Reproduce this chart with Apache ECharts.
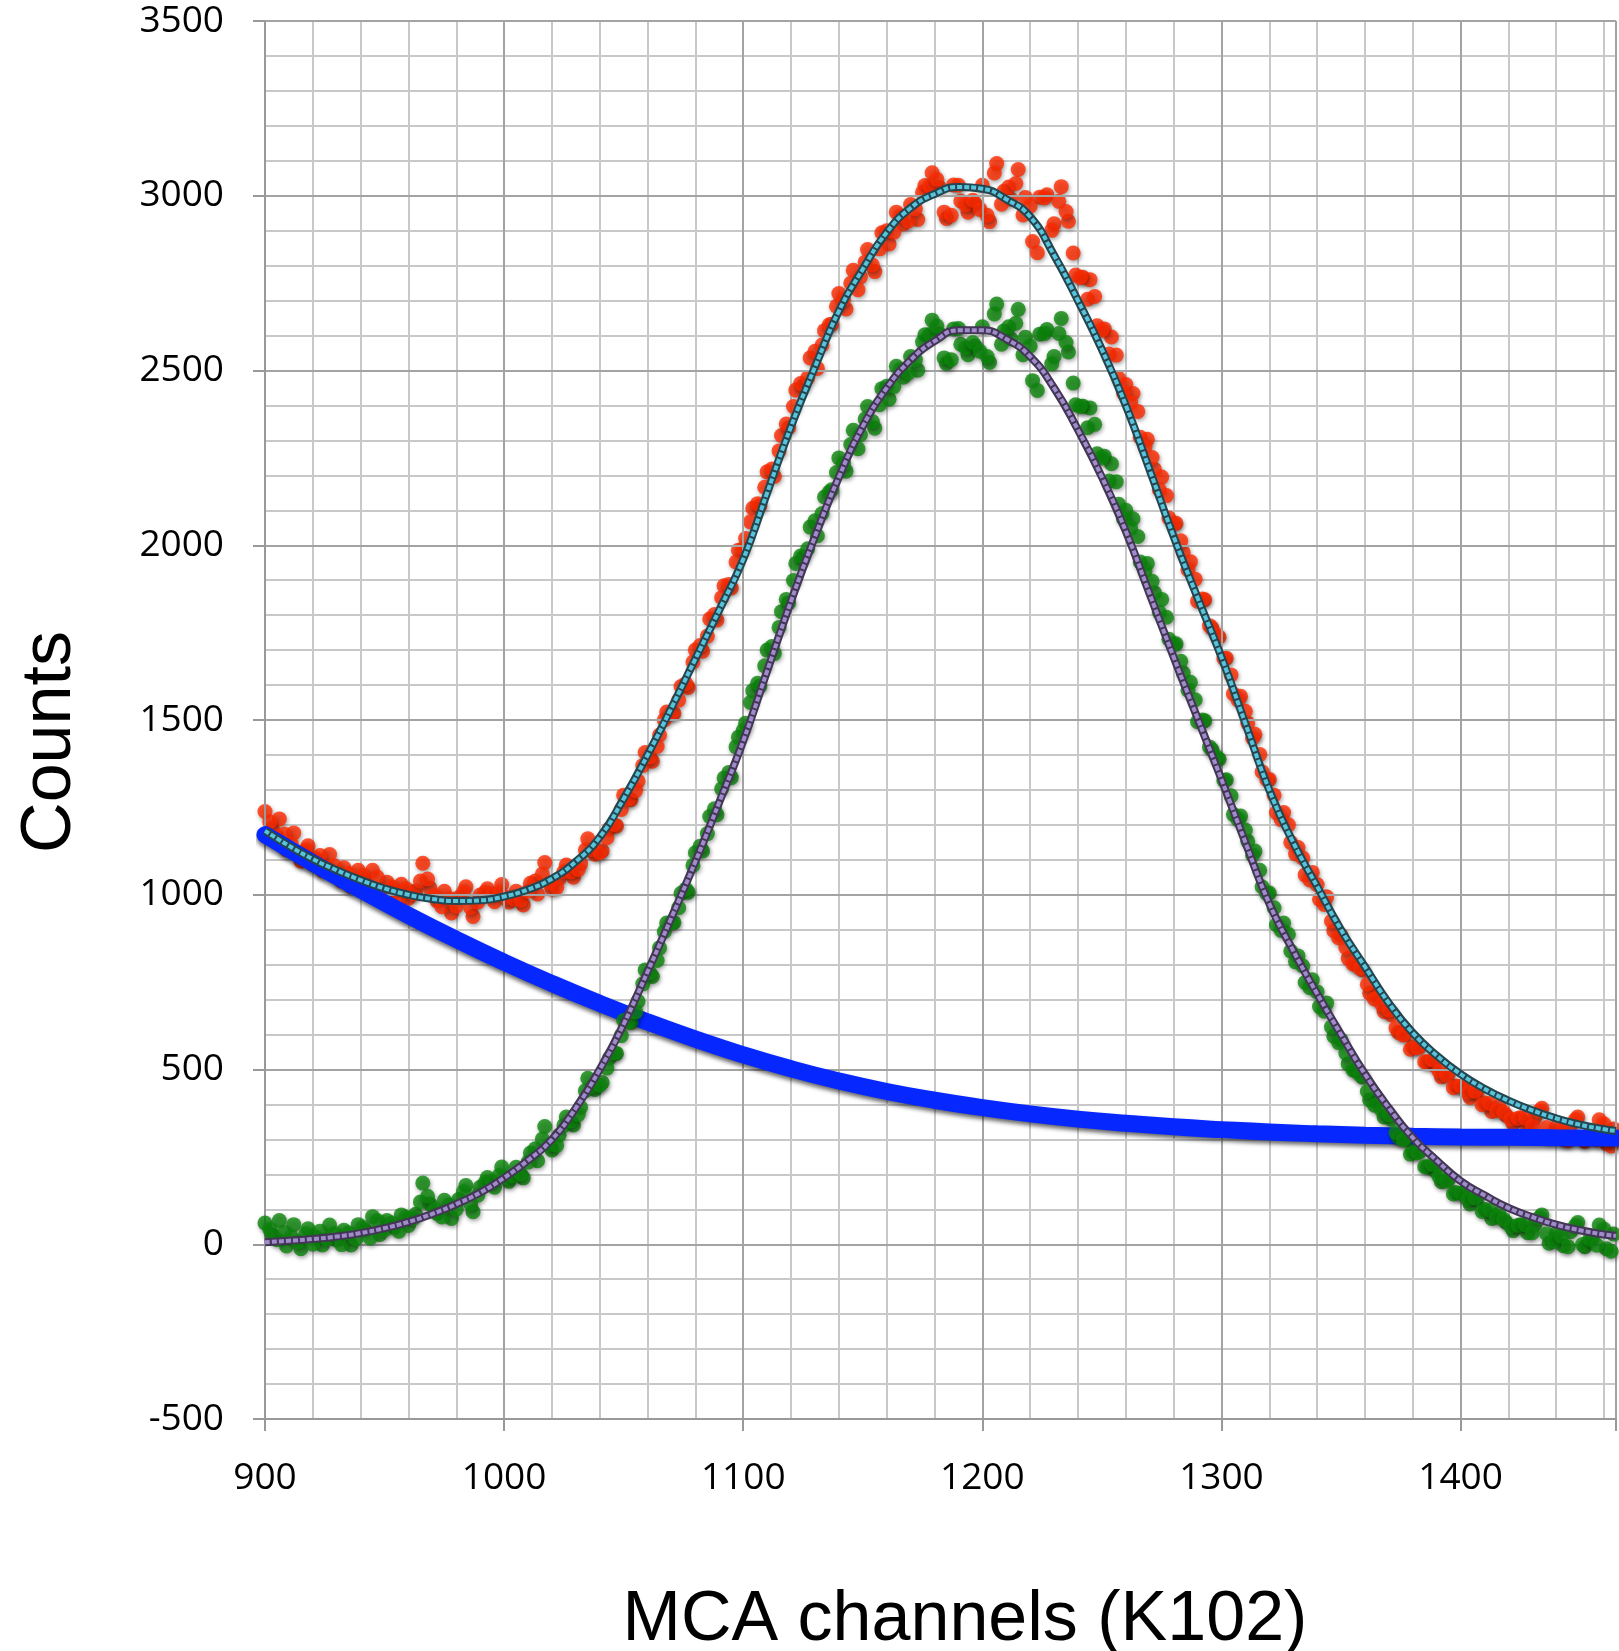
<!DOCTYPE html>
<html><head><meta charset="utf-8">
<script src="https://cdn.jsdelivr.net/npm/echarts@6/dist/echarts.min.js"></script>
<style>html,body{margin:0;padding:0;background:#fff}#chart{width:1619px;height:1651px}</style>
</head><body><div id="chart"></div>
<script>
// MCA channels of the measured points (first set)
const channels = [900,903,906,909,912,915,918,921,924,927,930,933,936,939,942,945,948,951,954,957,960,963,966,969,972,975,978,981,984,987,990,993,996,999,
1002,1005,1008,1011,1014,1017,1020,1023,1026,1029,1032,1035,1038,1041,1044,1047,1050,1053,1056,1059,1062,1065,1068,1071,1074,1077,1080,1083,1086,1089,1092,1095,1098,
1101,1104,1107,1110,1113,1116,1119,1122,1125,1128,1131,1134,1137,1140,1143,1146,1149,1152,1155,1158,1161,1164,1167,1170,1173,1176,1179,1182,1185,1188,1191,1194,1197,1200,
1203,1206,1209,1212,1215,1218,1221,1224,1227,1230,1233,1236,1239,1242,1245,1248,1251,1254,1257,1260,1263,1266,1269,1272,1275,1278,1281,1284,1287,1290,1293,1296,1299,
1302,1305,1308,1311,1314,1317,1320,1323,1326,1329,1332,1335,1338,1341,1344,1347,1350,1353,1356,1359,1362,1365,1368,1371,1374,1377,1380,1383,1386,1389,1392,1395,1398,
1401,1404,1407,1410,1413,1416,1419,1422,1425,1428,1431,1434,1437,1440,1443,1446,1449,1452,1455,1458,1461,1464];
const totalCounts = [1238,1190,1217,1129,1177,1096,1140,1104,1069,1115,1060,1077,1023,1070,1042,1070,1008,1036,1006,1030,990,1011,1090,1019,982,1010,948,992,1023,938,999,1017,980,1029,
979,1010,971,1033,1002,1092,1016,1046,1085,1050,1089,1160,1116,1126,1189,1197,1285,1272,1325,1407,1382,1457,1523,1519,1596,1593,1700,1697,1789,1786,1884,1878,1986,
2019,2106,2113,2210,2197,2314,2336,2444,2455,2536,2506,2614,2632,2720,2676,2787,2768,2846,2783,2894,2862,2953,2919,2975,2932,3029,3066,3024,2935,3031,2985,2953,2977,3030,
2926,3092,3013,2990,3075,2995,2869,2996,3003,2920,3026,2927,2773,2767,2760,2628,2619,2596,2478,2460,2434,2309,2303,2217,2195,2078,2063,1980,1953,1840,1844,1763,1737,
1677,1575,1568,1491,1459,1352,1330,1235,1235,1150,1135,1057,1064,987,994,897,885,818,801,785,718,712,666,657,606,601,565,566,521,512,479,489,453,
453,420,438,405,380,395,369,345,362,339,361,389,307,335,300,339,364,294,320,356,288,330];
const netCounts = [61,27,68,-5,56,-13,44,21,-2,55,12,40,-2,56,40,79,28,68,48,84,54,86,175,115,88,126,74,128,168,93,163,191,163,221,
180,220,190,261,239,337,270,312,364,341,392,475,443,463,532,546,640,635,695,785,766,848,919,921,1004,1007,1120,1125,1224,1229,1334,1335,1451,
1491,1584,1597,1700,1690,1810,1835,1948,1965,2052,2027,2138,2159,2250,2212,2329,2316,2397,2335,2448,2418,2512,2481,2540,2501,2602,2644,2605,2520,2619,2575,2545,2570,2625,
2523,2690,2613,2590,2675,2595,2471,2604,2617,2540,2649,2553,2402,2398,2393,2262,2255,2233,2117,2100,2076,1952,1948,1864,1845,1731,1718,1635,1608,1495,1498,1415,1388,
1329,1230,1225,1153,1125,1023,1005,914,919,839,825,749,757,680,690,595,585,516,497,478,413,409,364,357,306,301,265,266,221,212,179,186,148,
147,115,132,100,74,88,63,39,56,33,56,84,3,31,-4,36,62,-7,19,55,-13,29];

// second set of measured points
const channelsB = [902,905,908,911,914,917,920,923,926,929,932,935,938,941,944,947,950,953,956,959,962,965,968,971,974,977,980,983,986,989,992,995,998,
1001,1004,1007,1010,1013,1016,1019,1022,1025,1028,1031,1034,1037,1040,1043,1046,1049,1052,1055,1058,1061,1064,1067,1070,1073,1076,1079,1082,1085,1088,1091,1094,1097,
1100,1103,1106,1109,1112,1115,1118,1121,1124,1127,1130,1133,1136,1139,1142,1145,1148,1151,1154,1157,1160,1163,1166,1169,1172,1175,1178,1181,1184,1187,1190,1193,1196,1199,
1202,1205,1208,1211,1214,1217,1220,1223,1226,1229,1232,1235,1238,1241,1244,1247,1250,1253,1256,1259,1262,1265,1268,1271,1274,1277,1280,1283,1286,1289,1292,1295,1298,
1301,1304,1307,1310,1313,1316,1319,1322,1325,1328,1331,1334,1337,1340,1343,1346,1349,1352,1355,1358,1361,1364,1367,1370,1373,1376,1379,1382,1385,1388,1391,1394,1397,
1400,1403,1406,1409,1412,1415,1418,1421,1424,1427,1430,1433,1436,1439,1442,1445,1448,1451,1454,1457,1460,1463];
const totalCountsB = [1209,1167,1174,1146,1120,1128,1087,1112,1078,1083,1039,1061,1033,1055,1012,1050,1013,1023,987,1017,1003,1039,1045,997,966,989,967,1008,963,979,1006,1000,1008,
992,988,984,1010,1039,1059,1033,1021,1066,1065,1072,1128,1129,1120,1163,1201,1244,1275,1298,1370,1394,1424,1500,1520,1557,1604,1666,1713,1740,1802,1850,1888,1952,
1990,2067,2119,2166,2218,2270,2347,2397,2463,2479,2555,2573,2631,2684,2704,2750,2731,2810,2802,2848,2900,2896,2942,2928,2963,3010,3027,3047,2953,2944,3030,2974,2987,2961,
2944,3065,2976,3025,3035,2945,2970,2837,2994,2901,2984,2955,2836,2766,2704,2712,2615,2547,2544,2436,2408,2383,2282,2251,2159,2142,2060,2013,1930,1903,1846,1770,1744,
1676,1629,1557,1525,1448,1401,1329,1285,1215,1200,1117,1105,1042,1029,972,925,877,849,802,790,744,702,686,670,619,599,558,562,522,528,495,484,448,
452,434,437,399,403,383,378,358,360,361,338,381,334,312,326,296,356,301,317,298,344,281];
const netCountsB = [42,13,34,21,7,29,0,37,15,31,-1,32,15,48,18,67,41,61,37,77,74,121,137,100,78,112,100,150,115,140,176,179,197,
190,195,200,235,273,301,284,283,340,352,371,439,452,455,504,548,597,635,665,745,776,812,894,920,963,1016,1084,1139,1175,1246,1303,1350,1423,
1470,1550,1605,1655,1710,1765,1845,1899,1969,1990,2070,2091,2152,2208,2234,2288,2276,2361,2354,2402,2455,2454,2503,2492,2531,2582,2603,2627,2536,2531,2620,2565,2580,2555,
2540,2662,2575,2625,2635,2545,2570,2443,2606,2519,2606,2580,2464,2397,2336,2346,2250,2184,2182,2076,2049,2025,1926,1897,1808,1794,1715,1668,1585,1558,1500,1423,1395,
1327,1283,1214,1185,1113,1070,1003,963,898,887,808,796,734,722,667,622,577,547,499,485,437,398,384,370,319,299,258,262,222,228,194,181,144,
146,129,132,94,98,77,71,51,54,56,33,76,30,8,23,-7,53,-1,15,-3,43,-20];

// fitted curves
const fitChannels = [900,910,920,930,940,950,960,970,980,990,1000,1010,1020,1030,1040,1050,1060,1070,1080,1090,1100,1110,1120,1130,1140,1150,1160,1170,1180,1190,
1200,1210,1220,1230,1240,1250,1260,1270,1280,1290,1300,1310,1320,1330,1340,1350,1360,1370,1380,1390,1400,1410,1420,1430,1440,1450,1460,1465];
const totalFit = [1183,1140,1102,1070,1042,1018,1000,988,982,984,995,1015,1046,1095,1165,1275,1400,1535,1675,1815,1960,2150,2340,2510,2670,2790,2895,2965,3005,3025,
3020,2990,2940,2830,2700,2560,2400,2215,2025,1850,1680,1490,1300,1150,1024,900,794,690,605,540,487,445,411,383,360,342,329,324];
const netFit = [6,10,15,22,32,46,64,87,115,148,190,240,300,390,500,630,780,935,1095,1265,1440,1640,1840,2025,2195,2340,2450,2530,2584,2615,
2615,2590,2540,2450,2330,2195,2040,1860,1680,1505,1330,1150,975,840,717,600,487,390,305,240,181,140,104,78,56,40,28,24];

// background
const bgChannels = [900,920,940,960,980,1000,1020,1040,1060,1080,1100,1120,1140,1160,1180,1200,1220,1240,1260,1280,1300,1320,1340,1360,1380,1400,1420,1440,1465];
const bgCounts = [1172,1091,1014,941,872,807,746,689,636,587,542,502,467,437,412,391,373,358,346,336,328,321,316,312,309,307,306,305,304];

const xTickLabels = [900,1000,1100,1200,1300,1400];
const yTickLabels = [-500,0,500,1000,1500,2000,2500,3000,3500];

function zip(xs, ys) { return xs.map((x, i) => [x, ys[i]]); }

const chart = echarts.init(document.getElementById('chart'), null, {renderer: 'canvas'});
const tickFont = {fontFamily: '"Open Sans"', fontSize: 37, color: '#000'};
const dotShadow = {shadowBlur: 4, shadowColor: 'rgba(0,0,0,0.45)', shadowOffsetX: 1, shadowOffsetY: 2};
const option = {
  animation: false,
  backgroundColor: '#fff',
  grid: {left: 265, top: 21, width: 1355, height: 1398, containLabel: false},
  xAxis: [
    {type: 'value', min: 900, max: 1465, interval: 100, position: 'bottom', z: 3,
     axisLine: {show: true, onZero: false, lineStyle: {color: '#999999', width: 2}},
     axisTick: {show: true, inside: false, length: 12, lineStyle: {color: '#999999', width: 2}},
     axisLabel: Object.assign({margin: 41, formatter: v => xTickLabels.includes(v) ? String(v) : ''}, tickFont),
     splitLine: {show: true, lineStyle: {color: '#a3a3a3', width: 2}}},
    {type: 'value', min: 900, max: 1465, interval: 20, position: 'top', z: 1,
     axisLine: {show: false}, axisTick: {show: false}, axisLabel: {show: false},
     splitLine: {show: true, lineStyle: {color: '#c8c8c8', width: 2}}}
  ],
  yAxis: [
    {type: 'value', min: -500, max: 3500, interval: 500, position: 'left', z: 3,
     axisLine: {show: true, onZero: false, lineStyle: {color: '#999999', width: 2}},
     axisTick: {show: true, inside: false, length: 12, lineStyle: {color: '#999999', width: 2}},
     axisLabel: Object.assign({margin: 41, padding: [11, 0, 0, 0], formatter: v => yTickLabels.includes(v) ? String(v) : ''}, tickFont),
     splitLine: {show: true, lineStyle: {color: '#a3a3a3', width: 2}}},
    {type: 'value', min: -500, max: 3500, interval: 100, position: 'right', z: 1,
     axisLine: {show: false}, axisTick: {show: false}, axisLabel: {show: false},
     splitLine: {show: true, lineStyle: {color: '#c8c8c8', width: 2}}}
  ],
  series: [
    {name: 'total', type: 'scatter', symbolSize: 15, z: 2,
     data: zip(channels, totalCounts).concat(zip(channelsB, totalCountsB)),
     itemStyle: Object.assign({color: '#ff2a00'}, dotShadow)},
    {name: 'background', type: 'line', data: zip(bgChannels, bgCounts), smooth: true, showSymbol: false, z: 3,
     lineStyle: {color: '#0628ff', width: 17, cap: 'round', shadowBlur: 4, shadowColor: 'rgba(0,0,0,0.6)', shadowOffsetY: 3}},
    {name: 'net', type: 'scatter', symbolSize: 15, z: 4,
     data: zip(channels, netCounts).concat(zip(channelsB, netCountsB)),
     itemStyle: Object.assign({color: '#0b870b'}, dotShadow)},
    {name: 'totalFitBase', type: 'line', data: zip(fitChannels, totalFit), smooth: true, showSymbol: false, z: 5,
     lineStyle: {color: '#244650', width: 8}},
    {name: 'totalFit', type: 'line', data: zip(fitChannels, totalFit), smooth: true, showSymbol: false, z: 6,
     lineStyle: {color: '#58c4dc', width: 4, type: [5, 2]}},
    {name: 'netFitBase', type: 'line', data: zip(fitChannels, netFit), smooth: true, showSymbol: false, z: 7,
     lineStyle: {color: '#433755', width: 8}},
    {name: 'netFit', type: 'line', data: zip(fitChannels, netFit), smooth: true, showSymbol: false, z: 8,
     lineStyle: {color: '#a08ccc', width: 4, type: [5, 2]}}
  ],
  graphic: [
    {type: 'text', x: 965, y: 1621, z: 10,
     style: {text: 'MCA channels (K102)', fontFamily: '"Liberation Sans"', fontSize: 70, fill: '#000',
             align: 'center', verticalAlign: 'middle', textAlign: 'center', textVerticalAlign: 'middle'}},
    {type: 'text', x: 51, y: 742, rotation: Math.PI / 2, z: 10,
     style: {text: 'Counts', fontFamily: '"Liberation Sans"', fontSize: 70, fill: '#000',
             align: 'center', verticalAlign: 'middle', textAlign: 'center', textVerticalAlign: 'middle'}}
  ]
};
chart.setOption(option);
</script>
</body></html>
